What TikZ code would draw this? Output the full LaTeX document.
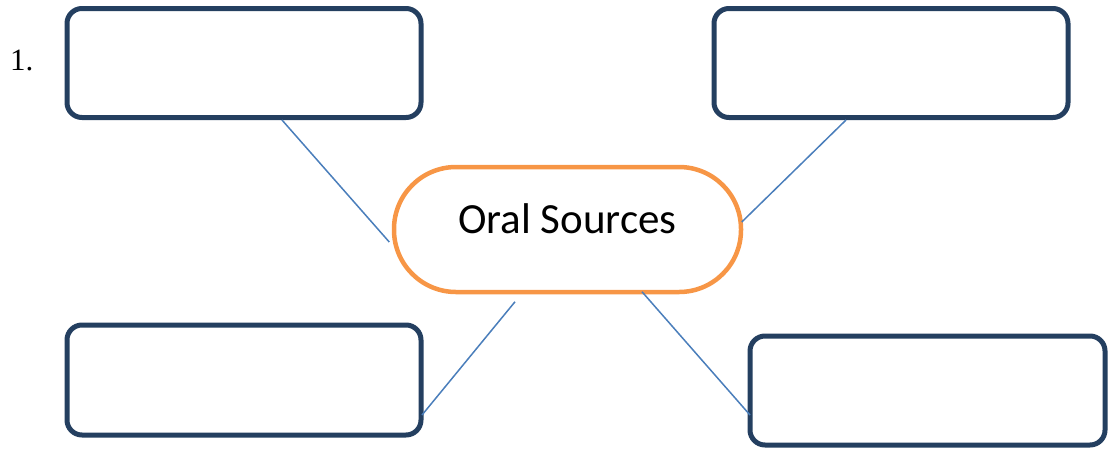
\documentclass[tikz,border=0pt]{standalone}
\usepackage{fontspec}
\setmainfont{Liberation Serif}
\newfontfamily\calib{Carlito}
\definecolor{boxblue}{HTML}{243F60}
\definecolor{ovalorange}{HTML}{F79646}
\definecolor{linkblue}{HTML}{4A7EBB}
\begin{document}
\begin{tikzpicture}[x=1pt,y=-1pt,
  blank/.style={draw=boxblue,line width=5pt,rounded corners=15pt,minimum width=354pt,minimum height=109pt,inner sep=0pt},
  oval/.style={draw=ovalorange,line width=4.5pt,rounded corners=62pt,minimum width=347pt,minimum height=125pt,inner sep=0pt},
  link/.style={draw=linkblue,line width=1.5pt}]
\useasboundingbox (0,0) rectangle (1108,451);
\node[anchor=base west,font=\fontsize{31}{36}\selectfont,inner sep=0pt] (num) at (10,70) {1.};
\node[blank] (tl) at (244,63) {};
\node[blank] (tr) at (891,63) {};
\node[blank,minimum height=110pt] (bl) at (244,380) {};
\node[blank,minimum width=355pt] (br) at (927.5,390.5) {};
\node[oval] (ov) at (567.5,229.5) {};
\node[anchor=base,font=\calib\fontsize{43}{50}\selectfont,inner sep=0pt] (lab) at (567.5,233) {Oral Sources};
\draw[link] ([xshift=38pt]tl.south) -- ([xshift=-2.5pt,yshift=-12.5pt]ov.west);
\draw[link] ([xshift=-45pt]tr.south) -- ([xshift=-1.5pt,yshift=7.5pt]ov.east);
\draw[link] ([xshift=-52.5pt,yshift=-7.5pt]ov.south) -- ([xshift=-1.5pt,yshift=-35pt]bl.east);
\draw[link] ([xshift=74.5pt,yshift=2.5pt]ov.south) -- ([xshift=2.5pt,yshift=-24.5pt]br.west);
\end{tikzpicture}
\end{document}
